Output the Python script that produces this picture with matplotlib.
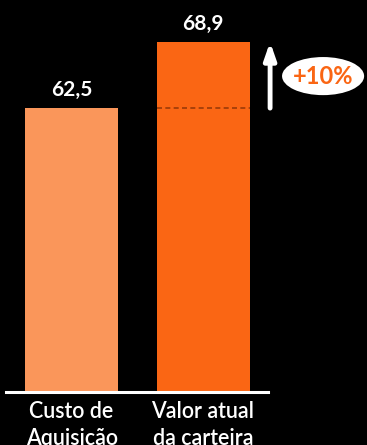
import matplotlib.pyplot as plt
from matplotlib.patches import Ellipse

categorias = ['Custo de\nAquisição', 'Valor atual\nda carteira']
valores = [62.5, 68.9]
rotulos = ['62,5', '68,9']
variacao = '+10%'
cores = ['#FA965A', '#FA6614']

fig = plt.figure(figsize=(3.67, 4.45), dpi=100, facecolor='black')
ax = fig.add_axes([0, 1 - 392 / 445, 1, 392 / 445])
ax.set_facecolor('black')

x = [0, 1]
ax.bar(x, valores, width=0.707, color=cores, zorder=2)
ax.set_xlim(-0.544, 2.247)
ax.set_ylim(35, 72.97)

for xi, v, r in zip(x, valores, rotulos):
    ax.text(xi, v + 0.8, r, ha='center', va='bottom', color='white',
            fontsize=15, fontweight='bold', family='Lato')

# linha tracejada no nível do custo de aquisição
ax.hlines(valores[0], 1 - 0.3535, 1 + 0.3535, colors='#9A3A08',
          linestyles=(0, (3, 2)), linewidth=1.2, zorder=3)

# linha de base
ax.axhline(35, xmin=6 / 367, xmax=268 / 367, color='white', linewidth=2.2, clip_on=False, zorder=4)

# seta de crescimento
ax.annotate('', xy=(1.51, valores[1]), xytext=(1.51, valores[0]),
            arrowprops=dict(arrowstyle='-|>,head_width=0.35,head_length=1.0',
                            color='white', linewidth=3.5, shrinkA=0, shrinkB=0))

ax.add_patch(Ellipse((1.913, 65.6), 0.624, 3.69, facecolor='white', edgecolor='none', zorder=5))
ax.text(1.913, 65.6, variacao, ha='center', va='center', color='#FA6614',
        fontsize=17, fontweight='bold', family='Lato', zorder=6)

# rótulos das categorias
for xi, c in zip(x, categorias):
    ax.text(xi, 35 - 0.9, c, ha='center', va='top',
            color='white', fontsize=15.5, fontweight='semibold', family='Lato',
            linespacing=1.35)

ax.axis('off')
fig.savefig('out.png', dpi=100, facecolor='black')
